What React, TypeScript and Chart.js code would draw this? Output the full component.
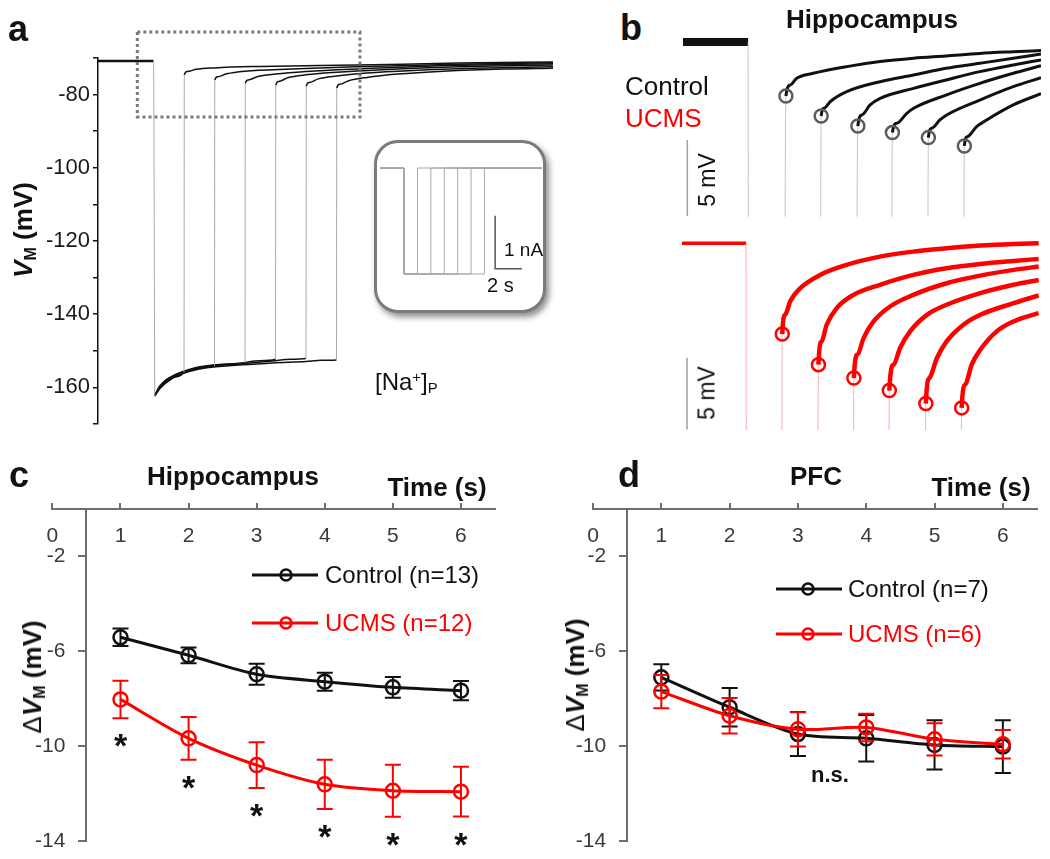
import React, { useEffect, useRef } from "react";
import { Chart, registerables } from "chart.js";
Chart.register(...registerables);

const FONT = "'Liberation Sans', Arial, Helvetica, sans-serif";
Chart.defaults.font.family = FONT;

type P = [number, number];
const toXY = (arr: P[]) => arr.map(([x, y]) => ({ x, y }));

// ---------------- Panel a : membrane potential traces (t in s, V in mV) ----------------
const aYTicks = [-70, -80, -90, -100, -110, -120, -130, -140, -150, -160, -170];
const aBaseline: P[] = [[-1.82, -70.8], [0, -70.8], [0.04, -162.3]];
const aTrace1: P[] = [[0.04, -162.3], [0.2, -159.9], [0.6, -157.2], [1.0, -155.9],
  [1.01, -74.6], [1.1, -73.7], [1.4, -73.1], [2.0, -72.7], [3.5, -72.3], [6.7, -71.9], [10, -71.4], [13.1, -71.1]];
const aTrace2: P[] = [[0.04, -162.3], [0.2, -160.2], [0.6, -157.4], [1.2, -155.3], [1.75, -154.5], [2.0, -154.2],
  [2.01, -76.0], [2.1, -75.1], [2.4, -74.3], [3.0, -73.6], [4.5, -73.0], [6.7, -72.4], [10, -71.7], [13.1, -71.3]];
const aTrace3: P[] = [[0.04, -162.3], [0.2, -159.7], [0.6, -157.0], [1.2, -155.0], [1.75, -154.1], [2.5, -153.6], [3.0, -153.3],
  [3.01, -76.9], [3.1, -76.0], [3.4, -75.1], [4.0, -74.4], [5.0, -73.7], [6.7, -73.0], [10, -72.0], [13.1, -71.6]];
const aTrace4: P[] = [[0.04, -162.3], [0.2, -160.4], [0.6, -157.6], [1.2, -155.4], [1.75, -154.2], [2.8, -153.4], [3.5, -152.7], [4.0, -152.3],
  [4.01, -77.4], [4.1, -76.4], [4.4, -75.4], [5.0, -74.6], [6.0, -73.9], [7.5, -73.2], [10, -72.4], [13.1, -71.9]];
const aTrace5: P[] = [[0.04, -162.3], [0.2, -160.0], [0.6, -157.1], [1.2, -155.2], [1.75, -154.3], [2.8, -153.6], [3.9, -152.8], [4.5, -152.3], [5.0, -152.1],
  [5.01, -77.7], [5.1, -76.7], [5.4, -75.7], [6.0, -74.9], [7.0, -74.1], [8.5, -73.4], [10.5, -72.8], [13.1, -72.4]];
const aTrace6: P[] = [[0.04, -162.3], [0.2, -160.3], [0.6, -157.5], [1.2, -155.6], [1.75, -154.6], [2.8, -153.9], [3.9, -153.3], [5.0, -152.9], [5.5, -152.6], [6.0, -152.5],
  [6.01, -78.2], [6.1, -77.2], [6.4, -76.2], [7.0, -75.3], [8.0, -74.4], [9.5, -73.6], [11.5, -73.0], [13.1, -72.8]];
const aZoomBoxT = [-0.53, 6.77];
const aZoomBoxV = [-62.9, -86.1];

// ---------------- Inset : injected current (t in s, I in nA) ----------------
const insetStart = -1.8;
const insetEnd = 10.3;
const insetPulseAmp = -2;
const insetPulseEnds = [1, 2, 3, 4, 5, 6];
const insetScaleBar: P[] = [[6.8, -0.9], [6.8, -1.9], [8.8, -1.9]];

// ---------------- Panel b : zoomed recovery (t in s, dV in mV) ----------------
const bCtrlBaseline: P[] = [[-1.81, 0], [0, 0], [0.005, -30]];
const bCtrlReturnT = [1.0, 2.0, 2.99, 3.97, 4.98, 5.98];
const bCtrlCircleT = [1.05, 2.03, 3.05, 4.01, 5.01, 6.01];
const bCtrlCircleV = [-3.55, -4.87, -5.53, -5.96, -6.29, -6.84];
const bCtrlCurve1: P[] = [[1.17, -2.83], [1.35, -2.39], [1.81, -2.06], [2.74, -1.62], [3.67, -1.29], [4.6, -1.07], [5.5, -0.92], [6.44, -0.75], [7.37, -0.64], [8.14, -0.56]];
const bCtrlCurve2: P[] = [[2.11, -4.36], [2.28, -3.93], [2.74, -3.27], [3.67, -2.61], [4.6, -2.17], [5.5, -1.73], [6.44, -1.4], [7.37, -1.07], [8.14, -0.79]];
const bCtrlCurve3: P[] = [[3.16, -4.8], [3.39, -4.14], [3.67, -3.71], [4.6, -3.05], [5.5, -2.5], [6.44, -1.95], [7.37, -1.51], [8.14, -1.18]];
const bCtrlCurve4: P[] = [[4.13, -5.35], [4.41, -4.69], [4.6, -4.36], [5.5, -3.49], [6.44, -2.72], [7.37, -2.06], [8.14, -1.56]];
const bCtrlCurve5: P[] = [[5.1, -5.68], [5.33, -5.13], [5.52, -4.8], [6.44, -3.82], [7.37, -2.94], [8.14, -2.35]];
const bCtrlCurve6: P[] = [[6.09, -6.23], [6.35, -5.57], [6.63, -5.13], [7.37, -4.14], [8.14, -3.4]];
const bCtrlScaleBar: P[] = [[-1.69, -6.45], [-1.69, -11.45]];

const bUcmsBaseline: P[] = [[-1.79, 0], [0, 0], [0.005, -40]];
const bUcmsReturnT = [0.98, 1.98, 2.99, 3.97, 4.97, 5.98];
const bUcmsCircleT = [1.01, 2.02, 3.01, 4.0, 5.02, 6.02];
const bUcmsCircleV = [-6.32, -8.45, -9.38, -10.25, -11.16, -11.46];
const bUcmsCurve1: P[] = [[1.09, -4.98], [1.23, -4.05], [1.51, -3.13], [2.07, -2.2], [2.81, -1.5], [3.74, -0.93], [4.67, -0.58], [5.6, -0.35], [6.54, -0.16], [7.47, -0.05], [8.17, 0]];
const bUcmsCurve2: P[] = [[2.11, -6.83], [2.25, -5.67], [2.53, -4.51], [3.0, -3.59], [3.74, -2.89], [4.67, -2.2], [5.6, -1.74], [6.54, -1.44], [7.47, -1.23], [8.17, -1.09]];
const bUcmsCurve3: P[] = [[3.11, -7.75], [3.28, -6.6], [3.56, -5.44], [4.02, -4.4], [4.67, -3.59], [5.6, -2.78], [6.54, -2.25], [7.47, -1.85], [8.17, -1.62]];
const bUcmsCurve4: P[] = [[4.12, -8.45], [4.3, -7.29], [4.58, -6.13], [5.05, -4.98], [5.6, -4.28], [6.54, -3.47], [7.47, -2.89], [8.17, -2.55]];
const bUcmsCurve5: P[] = [[5.12, -9.38], [5.33, -7.99], [5.6, -6.83], [6.07, -5.67], [6.54, -4.98], [7.47, -4.17], [8.17, -3.63]];
const bUcmsCurve6: P[] = [[6.12, -9.84], [6.3, -8.45], [6.54, -7.41], [7.0, -6.13], [7.47, -5.44], [8.17, -4.86]];
const bUcmsScaleBar: P[] = [[-1.65, -7.97], [-1.65, -12.97]];

// ---------------- Panels c & d : dV_M vs time ----------------
const timeS = [1, 2, 3, 4, 5, 6];
const xTicksCD = [0, 1, 2, 3, 4, 5, 6];
const yTicksCD = [-14, -10, -6, -2];
const cControl = [-5.41, -6.17, -6.97, -7.28, -7.52, -7.66];
const cControlSem = [0.37, 0.33, 0.44, 0.38, 0.44, 0.41];
const cUcms = [-8.03, -9.67, -10.8, -11.61, -11.88, -11.92];
const cUcmsSem = [0.79, 0.9, 0.96, 1.04, 1.1, 1.05];
const cSignificant = [true, true, true, true, true, true];
const cLabels = ["Control (n=13)", "UCMS (n=12)"];
const dControl = [-7.1, -8.36, -9.49, -9.67, -9.95, -10.02];
const dControlSem = [0.55, 0.81, 0.93, 0.98, 1.04, 1.11];
const dUcms = [-7.7, -8.72, -9.29, -9.21, -9.71, -9.92];
const dUcmsSem = [0.7, 0.75, 0.72, 0.58, 0.68, 0.6];
const dSignificant = [false, false, false, false, false, false];
const dLabels = ["Control (n=7)", "UCMS (n=6)"];

// ---------------- plugins ----------------
const zoomBoxPlugin = {
  id: "zoomBox",
  afterDraw(chart: any) {
    const { x, y } = chart.scales;
    const ctx = chart.ctx;
    const x0 = x.getPixelForValue(aZoomBoxT[0]);
    const x1 = x.getPixelForValue(aZoomBoxT[1]);
    const y0 = y.getPixelForValue(aZoomBoxV[0]);
    const y1 = y.getPixelForValue(aZoomBoxV[1]);
    ctx.save();
    ctx.setLineDash([3, 3]);
    ctx.lineWidth = 3;
    ctx.strokeStyle = "#7a7a7a";
    ctx.strokeRect(x0, y0, x1 - x0, y1 - y0);
    ctx.restore();
  },
};

const errorBarPlugin = {
  id: "errorBars",
  afterDatasetDraw(chart: any, args: any) {
    const ds = chart.data.datasets[args.index];
    if (!ds.sem) return;
    const ys = chart.scales.y;
    const ctx = chart.ctx;
    ctx.save();
    ctx.strokeStyle = ds.borderColor;
    ctx.lineWidth = 2;
    args.meta.data.forEach((pt: any, i: number) => {
      const d = ds.data[i];
      const yTop = ys.getPixelForValue(d.y + ds.sem[i]);
      const yBot = ys.getPixelForValue(d.y - ds.sem[i]);
      ctx.beginPath();
      ctx.moveTo(pt.x, yTop); ctx.lineTo(pt.x, yBot);
      ctx.moveTo(pt.x - 8, yTop); ctx.lineTo(pt.x + 8, yTop);
      ctx.moveTo(pt.x - 8, yBot); ctx.lineTo(pt.x + 8, yBot);
      ctx.stroke();
      if (ds.sig && ds.sig[i]) {
        ctx.fillStyle = "#111";
        ctx.font = `bold 34px ${FONT}`;
        ctx.textAlign = "center";
        ctx.textBaseline = "alphabetic";
        ctx.fillText("*", pt.x, yBot + 20 + 19);
      }
    });
    ctx.restore();
  },
};

const pairLegendPlugin = {
  id: "pairLegend",
  afterDraw(chart: any, _a: any, opts: any) {
    const ctx = chart.ctx;
    chart.data.datasets.forEach((ds: any, i: number) => {
      const y = opts.ys[i];
      ctx.save();
      ctx.strokeStyle = ds.borderColor;
      ctx.lineWidth = 3;
      ctx.beginPath(); ctx.moveTo(opts.x1, y); ctx.lineTo(opts.x2, y); ctx.stroke();
      ctx.lineWidth = 2.5;
      ctx.beginPath(); ctx.arc(opts.cx, y, 5.5, 0, Math.PI * 2); ctx.stroke();
      ctx.fillStyle = ds.borderColor;
      ctx.font = `24px ${FONT}`;
      ctx.textAlign = "left";
      ctx.textBaseline = "middle";
      ctx.fillText(ds.label, opts.tx, y + 1);
      ctx.restore();
    });
  },
};

const baseOptions = (padding: any) => ({
  responsive: false,
  animation: false as const,
  events: [] as any[],
  layout: { padding, autoPadding: false },
  plugins: { legend: { display: false }, tooltip: { enabled: false } },
});

// keep the scale's label overhang from shrinking the plot area
const noOverhang = (s: any) => {
  s.paddingTop = 0; s.paddingBottom = 0; s.paddingLeft = 0; s.paddingRight = 0;
};

const steep = (thr: number) => (c: any) => Math.abs(c.p1.parsed.y - c.p0.parsed.y) > thr;

function traceDataset(d: P[], color: string, width: number, steepColor: string, thr: number) {
  const s = steep(thr);
  return {
    data: toXY(d),
    borderColor: color,
    borderWidth: width,
    pointRadius: 0,
    cubicInterpolationMode: "monotone",
    segment: {
      borderColor: (c: any) => (s(c) ? steepColor : color),
      borderWidth: (c: any) => (s(c) ? 1 : width),
    },
  };
}

function panelAConfig() {
  const traces = [aTrace1, aTrace2, aTrace3, aTrace4, aTrace5, aTrace6];
  return {
    type: "line",
    data: {
      datasets: [
        traceDataset(aBaseline, "#111", 2.6, "#a8a8a8", 30),
        ...traces.map((t) => traceDataset(t, "#111", 1.5, "#a8a8a8", 30)),
      ],
    },
    options: {
      ...baseOptions({ left: 0, right: 7, top: 58, bottom: 6 }),
      scales: {
        x: { type: "linear", display: false, min: -1.82, max: 13.1 },
        y: {
          type: "linear", min: -170, max: -70, position: "left",
          afterFit: (s: any) => { s.width = 98; noOverhang(s); },
          afterBuildTicks: (s: any) => { s.ticks = aYTicks.map((v) => ({ value: v })); },
          grid: { display: true, drawOnChartArea: false, drawTicks: true, tickLength: 5, color: "#111", lineWidth: 1.5 },
          border: { display: true, color: "#111", width: 1.5 },
          ticks: {
            autoSkip: false, padding: 3, color: "#1a1a1a", font: { size: 22, family: FONT },
            callback: (v: any) => (v % 20 === 0 ? String(v) : ""),
          },
        },
      },
    },
    plugins: [zoomBoxPlugin],
  };
}

function insetConfig() {
  const traces = insetPulseEnds.map((k) => [
    [insetStart, 0], [0, 0], [0.001, insetPulseAmp], [k, insetPulseAmp], [k + 0.001, 0], [insetEnd, 0],
  ] as P[]);
  return {
    type: "line",
    data: {
      datasets: [
        { data: toXY(insetScaleBar), borderColor: "#555", borderWidth: 1.5, pointRadius: 0, tension: 0, clip: false },
        ...traces.map((t) => ({ data: toXY(t), borderColor: "#a8a8a8", borderWidth: 1, pointRadius: 0, tension: 0, clip: false })),
      ],
    },
    options: {
      ...baseOptions({ left: 6, right: 4, top: 28, bottom: 39 }),
      scales: {
        x: { type: "linear", display: false, min: insetStart, max: insetEnd },
        y: { type: "linear", display: false, min: -2, max: 0 },
      },
    },
  };
}

function panelBConfig(
  baseline: P[], returns: number[], circT: number[], circV: number[], curves: P[][], scaleBar: P[],
  lineColor: string, lineWidth: number, baseWidth: number, faint: string, markerColor: string,
  drop: number, xr: [number, number], yr: [number, number], padding: any,
) {
  const curveDs = curves.map((c, i) =>
    traceDataset([[returns[i], drop], [circT[i], circV[i]], ...c], lineColor, lineWidth, faint, 3));
  return {
    type: "line",
    data: {
      datasets: [
        {
          data: circT.map((t, i) => ({ x: t, y: circV[i] })), showLine: false, pointRadius: 6.5,
          pointBorderWidth: 2.5, pointBorderColor: markerColor, pointBackgroundColor: "rgba(0,0,0,0)",
        },
        ...curveDs,
        traceDataset(baseline, lineColor, baseWidth, faint, 3),
        { data: toXY(scaleBar), borderColor: "#a0a0a0", borderWidth: 1.5, pointRadius: 0, tension: 0 },
      ],
    },
    options: {
      ...baseOptions(padding),
      scales: {
        x: { type: "linear", display: false, min: xr[0], max: xr[1] },
        y: { type: "linear", display: false, min: yr[0], max: yr[1] },
      },
    },
  };
}

function deltaConfig(
  ctrl: number[], ctrlSem: number[], ucms: number[], ucmsSem: number[], sig: boolean[], labels: string[],
  padding: any, legend: any,
) {
  const axisColor = "#6e6e6e";
  const common = {
    borderWidth: 3, pointRadius: 7, pointBorderWidth: 2.5, pointBackgroundColor: "rgba(0,0,0,0)",
    tension: 0.3, fill: false, clip: false as any,
  };
  return {
    type: "line",
    data: {
      datasets: [
        { ...common, label: labels[0], data: timeS.map((t, i) => ({ x: t, y: ctrl[i] })), borderColor: "#111111", pointBorderColor: "#111111", sem: ctrlSem, order: 2 },
        { ...common, label: labels[1], data: timeS.map((t, i) => ({ x: t, y: ucms[i] })), borderColor: "#ff0000", pointBorderColor: "#ff0000", sem: ucmsSem, sig, order: 1 },
      ],
    },
    options: {
      ...baseOptions(padding),
      plugins: { legend: { display: false }, tooltip: { enabled: false }, pairLegend: legend },
      scales: {
        x: {
          type: "linear", min: 0, max: 6.5, position: { y: 0 },
          afterFit: noOverhang,
          afterBuildTicks: (s: any) => { s.ticks = xTicksCD.map((v) => ({ value: v })); },
          grid: { display: true, drawOnChartArea: false, drawTicks: true, tickLength: -7, color: axisColor, lineWidth: 2 },
          border: { display: true, color: axisColor, width: 2 },
          ticks: { autoSkip: false, maxRotation: 0, padding: 22, color: "#3a3a3a", font: { size: 21, family: FONT } },
        },
        y: {
          type: "linear", min: -14, max: 0, position: { x: 0.5 },
          afterFit: noOverhang,
          afterBuildTicks: (s: any) => { s.ticks = yTicksCD.map((v) => ({ value: v })); },
          grid: { display: true, drawOnChartArea: false, drawTicks: true, tickLength: 7, color: axisColor, lineWidth: 2 },
          border: { display: true, color: axisColor, width: 2 },
          ticks: {
            autoSkip: false, padding: 14, color: "#3a3a3a", font: { size: 21, family: FONT },
            // an em space keeps the right-aligned label clear of the tick mark
            callback: (v: any) => `${v}\u2003`,
          },
        },
      },
    },
    plugins: [errorBarPlugin, pairLegendPlugin],
  };
}

// ---------------- components ----------------
function ChartBox({ left, top, width, height, make }: { left: number; top: number; width: number; height: number; make: () => any }) {
  const ref = useRef<HTMLCanvasElement>(null);
  useEffect(() => {
    const chart = new Chart(ref.current as HTMLCanvasElement, make());
    return () => chart.destroy();
  }, []);
  return (
    <canvas ref={ref} width={width} height={height}
      style={{ position: "absolute", left, top, width, height }} />
  );
}

function Txt({ x, base, size, bold, color = "#111", center, children }: any) {
  return (
    <div style={{
      position: "absolute", left: x, top: base - 0.847 * size, fontSize: size, lineHeight: `${size}px`,
      fontFamily: FONT, fontWeight: bold ? 700 : 400, color, whiteSpace: "nowrap",
      transform: center ? "translateX(-50%)" : undefined,
    }}>{children}</div>
  );
}

function VTxt({ cx, cy, size, bold, color = "#111", children }: any) {
  return (
    <div style={{
      position: "absolute", left: cx, top: cy, fontSize: size, lineHeight: `${size}px`, fontFamily: FONT,
      fontWeight: bold ? 700 : 400, color, whiteSpace: "nowrap",
      transform: "translate(-50%, -50%) rotate(-90deg)",
    }}>{children}</div>
  );
}

const subStyle: React.CSSProperties = { fontSize: "0.62em", verticalAlign: "-0.22em", lineHeight: 0 };
const supStyle: React.CSSProperties = { fontSize: "0.62em", verticalAlign: "0.55em", lineHeight: 0 };

export default function App() {
  return (
    <div style={{ position: "absolute", left: 0, top: 0, width: 1050, height: 859, background: "#fff", overflow: "hidden" }}>
      {/* panel a */}
      <ChartBox left={0} top={0} width={560} height={430} make={panelAConfig} />
      <div style={{
        position: "absolute", left: 374, top: 140, width: 172, height: 173, boxSizing: "border-box",
        border: "3px solid #7b7b7b", borderRadius: 24, background: "#fff",
        boxShadow: "3px 4px 6px rgba(0,0,0,0.45)",
      }} />
      <ChartBox left={374} top={140} width={172} height={173} make={insetConfig} />
      <Txt x={504} base={256} size={19}>1 nA</Txt>
      <Txt x={487} base={292} size={20}>2 s</Txt>
      <Txt x={375} base={390} size={24}>[Na<span style={supStyle}>+</span>]<span style={subStyle}>P</span></Txt>
      <VTxt cx={23} cy={230} size={26} bold><i>V</i><span style={subStyle}>M</span> (mV)</VTxt>
      <Txt x={8} base={41} size={36} bold>a</Txt>

      {/* panel b */}
      <ChartBox left={680} top={25} width={370} height={200}
        make={() => panelBConfig(bCtrlBaseline, bCtrlReturnT, bCtrlCircleT, bCtrlCircleV,
          [bCtrlCurve1, bCtrlCurve2, bCtrlCurve3, bCtrlCurve4, bCtrlCurve5, bCtrlCurve6], bCtrlScaleBar,
          "#111111", 3, 8, "#c4c4c4", "#5c5c5c", -30, [-1.81, 8.14], [-11.5, 0.5],
          { left: 3, right: 9, top: 9.4, bottom: 8.2 })} />
      <ChartBox left={680} top={228} width={370} height={202}
        make={() => panelBConfig(bUcmsBaseline, bUcmsReturnT, bUcmsCircleT, bUcmsCircleV,
          [bUcmsCurve1, bUcmsCurve2, bUcmsCurve3, bUcmsCurve4, bUcmsCurve5, bUcmsCurve6], bUcmsScaleBar,
          "#ff0000", 4.5, 3.5, "#f6b0b0", "#ff0000", -40, [-1.79, 8.18], [-13, 0.3],
          { left: 2, right: 11, top: 11, bottom: 0 })} />
      <Txt x={620} base={40} size={36} bold>b</Txt>
      <Txt x={872} base={28} size={26} bold center>Hippocampus</Txt>
      <Txt x={625} base={95} size={26}>Control</Txt>
      <Txt x={625} base={127} size={26} color="#ff0000">UCMS</Txt>
      <VTxt cx={707} cy={180} size={23}>5 mV</VTxt>
      <VTxt cx={707} cy={393} size={23}>5 mV</VTxt>

      {/* panel c */}
      <ChartBox left={0} top={430} width={525} height={429}
        make={() => deltaConfig(cControl, cControlSem, cUcms, cUcmsSem, cSignificant, cLabels,
          { left: 52.4, right: 30, top: 79, bottom: 18 },
          { x1: 252, x2: 318, cx: 286, tx: 325, ys: [145, 193] })} />
      <Txt x={9} base={487} size={36} bold>c</Txt>
      <Txt x={233} base={485} size={26} bold center>Hippocampus</Txt>
      <Txt x={437} base={496} size={26} bold center>Time (s)</Txt>
      <VTxt cx={32} cy={677} size={26} bold><span style={{ fontWeight: 400 }}>Δ</span><i>V</i><span style={subStyle}>M</span> (mV)</VTxt>

      {/* panel d */}
      <ChartBox left={525} top={430} width={525} height={429}
        make={() => deltaConfig(dControl, dControlSem, dUcms, dUcmsSem, dSignificant, dLabels,
          { left: 68, right: 13, top: 79, bottom: 18 },
          { x1: 251, x2: 317, cx: 283, tx: 323, ys: [159, 204] })} />
      <Txt x={618} base={487} size={36} bold>d</Txt>
      <Txt x={816} base={485} size={26} bold center>PFC</Txt>
      <Txt x={981} base={496} size={26} bold center>Time (s)</Txt>
      <VTxt cx={575} cy={675} size={26} bold><span style={{ fontWeight: 400 }}>Δ</span><i>V</i><span style={subStyle}>M</span> (mV)</VTxt>
      <Txt x={830} base={783} size={22} bold center>n.s.</Txt>
    </div>
  );
}
